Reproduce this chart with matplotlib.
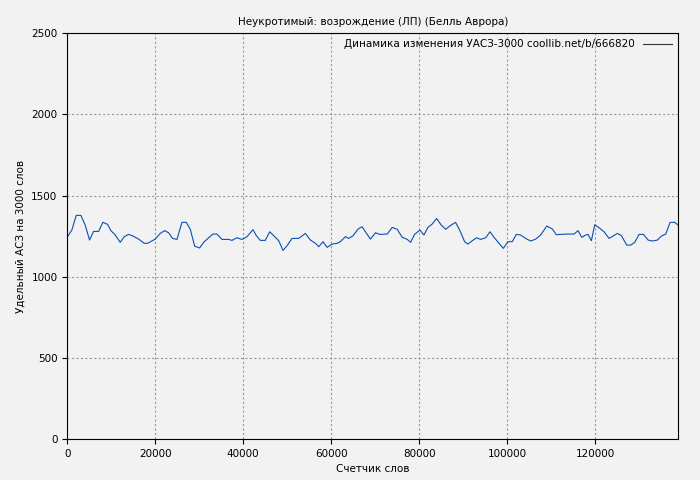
import matplotlib
matplotlib.use("Agg")
import matplotlib.pyplot as plt

words = [76,1061,2046,3108,4093,5078,5988,7125,8110,9172,9930,10915,12052,12962,13947,14932,16221,17510,18268,20011,21148,22133,23043,23953,24938,26075,27060,27970,28955,30092,31002,32139,33124,34034,35171,36687,37445,38582,39719,40856,42220,42978,43888,45025,46010,46920,48057,49042,49952,51089,52605,54121,55258,56395,57153,58138,59048,60185,61322,62080,63217,63975,64960,66097,67007,67765,68902,70039,71024,
72720,73857,74994,76131,77268,78026,78936,80148,81058,81968,82953,83938,85000,85985,87122,88259,89244,90306,91064,92049,93034,93944,95081,96066,96976,98113,99098,100160,101145,102055,103040,104177,105314,106451,107588,108952,110241,111151,112136,113652,115168,116078,116912,117821,118352,119110,119868,120853,121990,123127,124037,125022,125932,127145,128054,128964,129949,130934,131996,132981,134118,135028,136013,136998,138059,138817]
uasz = [1247,1288,1378,1378,1318,1226,1279,1279,1335,1323,1284,1257,1212,1247,1261,1251,1232,1206,1206,1232,1267,1284,1271,1236,1230,1335,1335,1292,1189,1177,1212,1240,1263,1263,1230,1230,1224,1240,1230,1247,1290,1253,1224,1224,1277,1253,1222,1162,1191,1236,1236,1267,1226,1206,1185,1216,1181,1201,1206,1216,1247,1236,1253,1294,1308,1277,1232,1271,1261,
1263,1304,1292,1243,1230,1212,1261,1288,1257,1304,1325,1359,1318,1292,1316,1335,1284,1216,1201,1222,1240,1230,1240,1277,1243,1206,1175,1216,1216,1261,1257,1236,1220,1232,1257,1312,1294,1259,1261,1263,1263,1284,1243,1257,1261,1222,1320,1302,1277,1236,1251,1267,1253,1195,1195,1212,1261,1261,1226,1220,1226,1251,1263,1335,1335,1318]

fs = 7.5
fig = plt.figure(figsize=(7, 4.8), dpi=100, facecolor="#f2f2f2")
ax = fig.add_axes([0.096, 0.085, 0.873, 0.846])
ax.set_facecolor("#f2f2f2")
ax.plot(words, uasz, color="#0a4fb4", lw=0.8, label="Динамика изменения УАСЗ-3000 coollib.net/b/666820")
ax.set_xlim(0, 138860)
ax.set_ylim(0, 2500)
ax.set_xticks([0, 20000, 40000, 60000, 80000, 100000, 120000])
ax.set_yticks([0, 500, 1000, 1500, 2000, 2500])
ax.grid(True, color="#999999", ls=(0, (2, 2)), lw=0.8)
ax.tick_params(labelsize=fs)
ax.set_title("Неукротимый: возрождение (ЛП) (Белль Аврора)", fontsize=fs)
ax.set_xlabel("Счетчик слов", fontsize=fs)
ax.set_ylabel("Удельный АСЗ на 3000 слов", fontsize=fs)
leg = ax.legend(loc="upper right", fontsize=fs, frameon=False, markerfirst=False, handlelength=2.8, borderaxespad=0.2)
leg.get_lines()[0].set_color("#333333")
fig.savefig("out.png", dpi=100, facecolor=fig.get_facecolor())
